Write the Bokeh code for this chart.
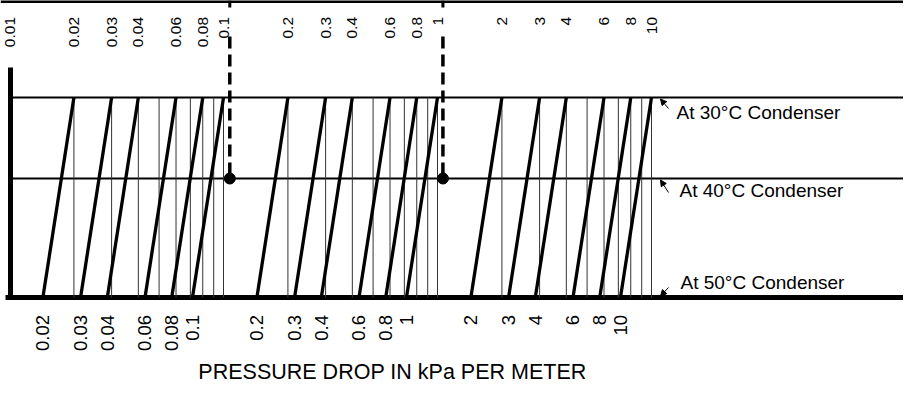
import numpy as np
from bokeh.plotting import figure
from bokeh.models import Range1d, Arrow, NormalHead, Label
from bokeh.core.properties import value
from bokeh.embed import file_html
from bokeh.resources import INLINE

# ---------------- data ----------------
top_values = [0.01, 0.02, 0.03, 0.04, 0.06, 0.08, 0.1, 0.2, 0.3, 0.4, 0.6, 0.8, 1, 2, 3, 4, 6, 8, 10]
top_labels = ["0.01", "0.02", "0.03", "0.04", "0.06", "0.08", "0.1", "0.2", "0.3", "0.4", "0.6", "0.8",
              "1", "2", "3", "4", "6", "8", "10"]
bottom_values = [0.02, 0.03, 0.04, 0.06, 0.08, 0.1, 0.2, 0.3, 0.4, 0.6, 0.8, 1, 2, 3, 4, 6, 8, 10]
bottom_labels = ["0.02", "0.03", "0.04", "0.06", "0.08", "0.1", "0.2", "0.3", "0.4", "0.6", "0.8",
                 "1", "2", "3", "4", "6", "8", "10"]
grid_values = [0.02, 0.03, 0.04, 0.05, 0.06, 0.07, 0.08, 0.09,
               0.1, 0.2, 0.3, 0.4, 0.5, 0.6, 0.7, 0.8, 0.9,
               1, 2, 3, 4, 5, 6, 7, 8, 9, 10]
slant_values = [0.02, 0.03, 0.04, 0.06, 0.08, 0.1, 0.2, 0.3, 0.4, 0.6, 0.8, 1, 2, 3, 4, 6, 8, 10]
condenser_labels = ["At 30°C Condenser", "At 40°C Condenser", "At 50°C Condenser"]
shift_50_decades = 0.145          # 50°C scale offset relative to 30°C scale (decades)
example_values = [0.107, 1.06]    # dashed example reading lines
title_text = "PRESSURE DROP IN kPa PER METER"

# ---------------- layout ----------------
W, H = 903, 386
PX_PER_DEC = 214.0
X0_PX = 9.0                       # canvas x of 0.01
Y_TOP_BORDER = 1.0
Y30, Y40, Y50 = 97.0, 178.0, 297.0
Y_TOP_LAB, Y_BOT_LAB = 16.5, 314.5

xr = Range1d(np.log10(0.01) - X0_PX / PX_PER_DEC, np.log10(0.01) + (W - X0_PX) / PX_PER_DEC)
p = figure(width=W, height=H, x_range=xr, y_range=Range1d(H, 0),
           output_backend="svg", toolbar_location=None, min_border=0,
           x_axis_location=None, y_axis_location=None)
p.extra_x_ranges = {"px": Range1d(0, W)}
p.grid.visible = False
p.outline_line_color = None
p.background_fill_color = "white"
p.border_fill_color = "white"

FONT = value("Liberation Sans")

# structural lines (pixel range)
p.segment(x0=[0], y0=[Y_TOP_BORDER], x1=[W], y1=[Y_TOP_BORDER], line_width=3, color="black", x_range_name="px")
p.segment(x0=[10], y0=[67], x1=[10], y1=[Y50], line_width=5, color="black", x_range_name="px")
p.segment(x0=[10, 10], y0=[Y30, Y40], x1=[W, W], y1=[Y30, Y40], line_width=2.2, color="black", x_range_name="px")
p.segment(x0=[5], y0=[Y50], x1=[W], y1=[Y50], line_width=5, color="black", x_range_name="px")

# thin grid verticals
gl = np.log10(grid_values)
p.segment(x0=gl, y0=[Y30] * len(gl), x1=gl, y1=[Y50] * len(gl), line_width=1, color="#333333")

# slanted lines
sl = np.log10(slant_values)
p.segment(x0=sl, y0=[Y30] * len(sl), x1=sl - shift_50_decades, y1=[Y50] * len(sl),
          line_width=3.3, color="black")

# dashed example lines and dots
el = np.log10(example_values)
p.segment(x0=el, y0=[0] * len(el), x1=el, y1=[7] * len(el), line_width=3, color="black")
p.segment(x0=el, y0=[36] * len(el), x1=el, y1=[Y40] * len(el), line_width=3.5, color="black",
          line_dash="12 6")
p.scatter(x=el, y=[Y40] * len(el), size=11, color="black")

# top tick labels
p.text(x=np.log10(top_values), y=[Y_TOP_LAB] * len(top_values), text=top_labels, angle=np.pi / 2,
       text_align="right", text_baseline="middle", text_font=FONT, text_font_size="15.5px", text_color="black")
# bottom tick labels
p.text(x=np.log10(bottom_values) - shift_50_decades, y=[Y_BOT_LAB] * len(bottom_values), text=bottom_labels,
       angle=np.pi / 2, text_align="right", text_baseline="middle", text_font=FONT,
       text_font_size="18.5px", text_color="black")

# condenser annotations
lab_pos = [(676, 112), (679, 190), (680, 282)]
arrows = [((668, 108), (660, 98.5)), ((668, 192), (660, 179.5)), ((668, 287), (660, 295.5))]
for txt, (lx, ly) in zip(condenser_labels, lab_pos):
    p.add_layout(Label(x=lx, y=ly, x_range_name="px", text=txt, text_baseline="middle",
                       text_font="Liberation Sans", text_font_size="19px", text_color="black"))
for (s, e) in arrows:
    p.add_layout(Arrow(end=NormalHead(size=6, fill_color="black", line_color="black"),
                       x_start=s[0], y_start=s[1], x_end=e[0], y_end=e[1], x_range_name="px",
                       line_width=1, line_color="black"))

p.add_layout(Label(x=392, y=371, x_range_name="px", text=title_text, text_align="center",
                   text_baseline="middle", text_font="Liberation Sans", text_font_size="21.5px",
                   text_color="black"))

open("out.html", "w").write(file_html(p, INLINE))
